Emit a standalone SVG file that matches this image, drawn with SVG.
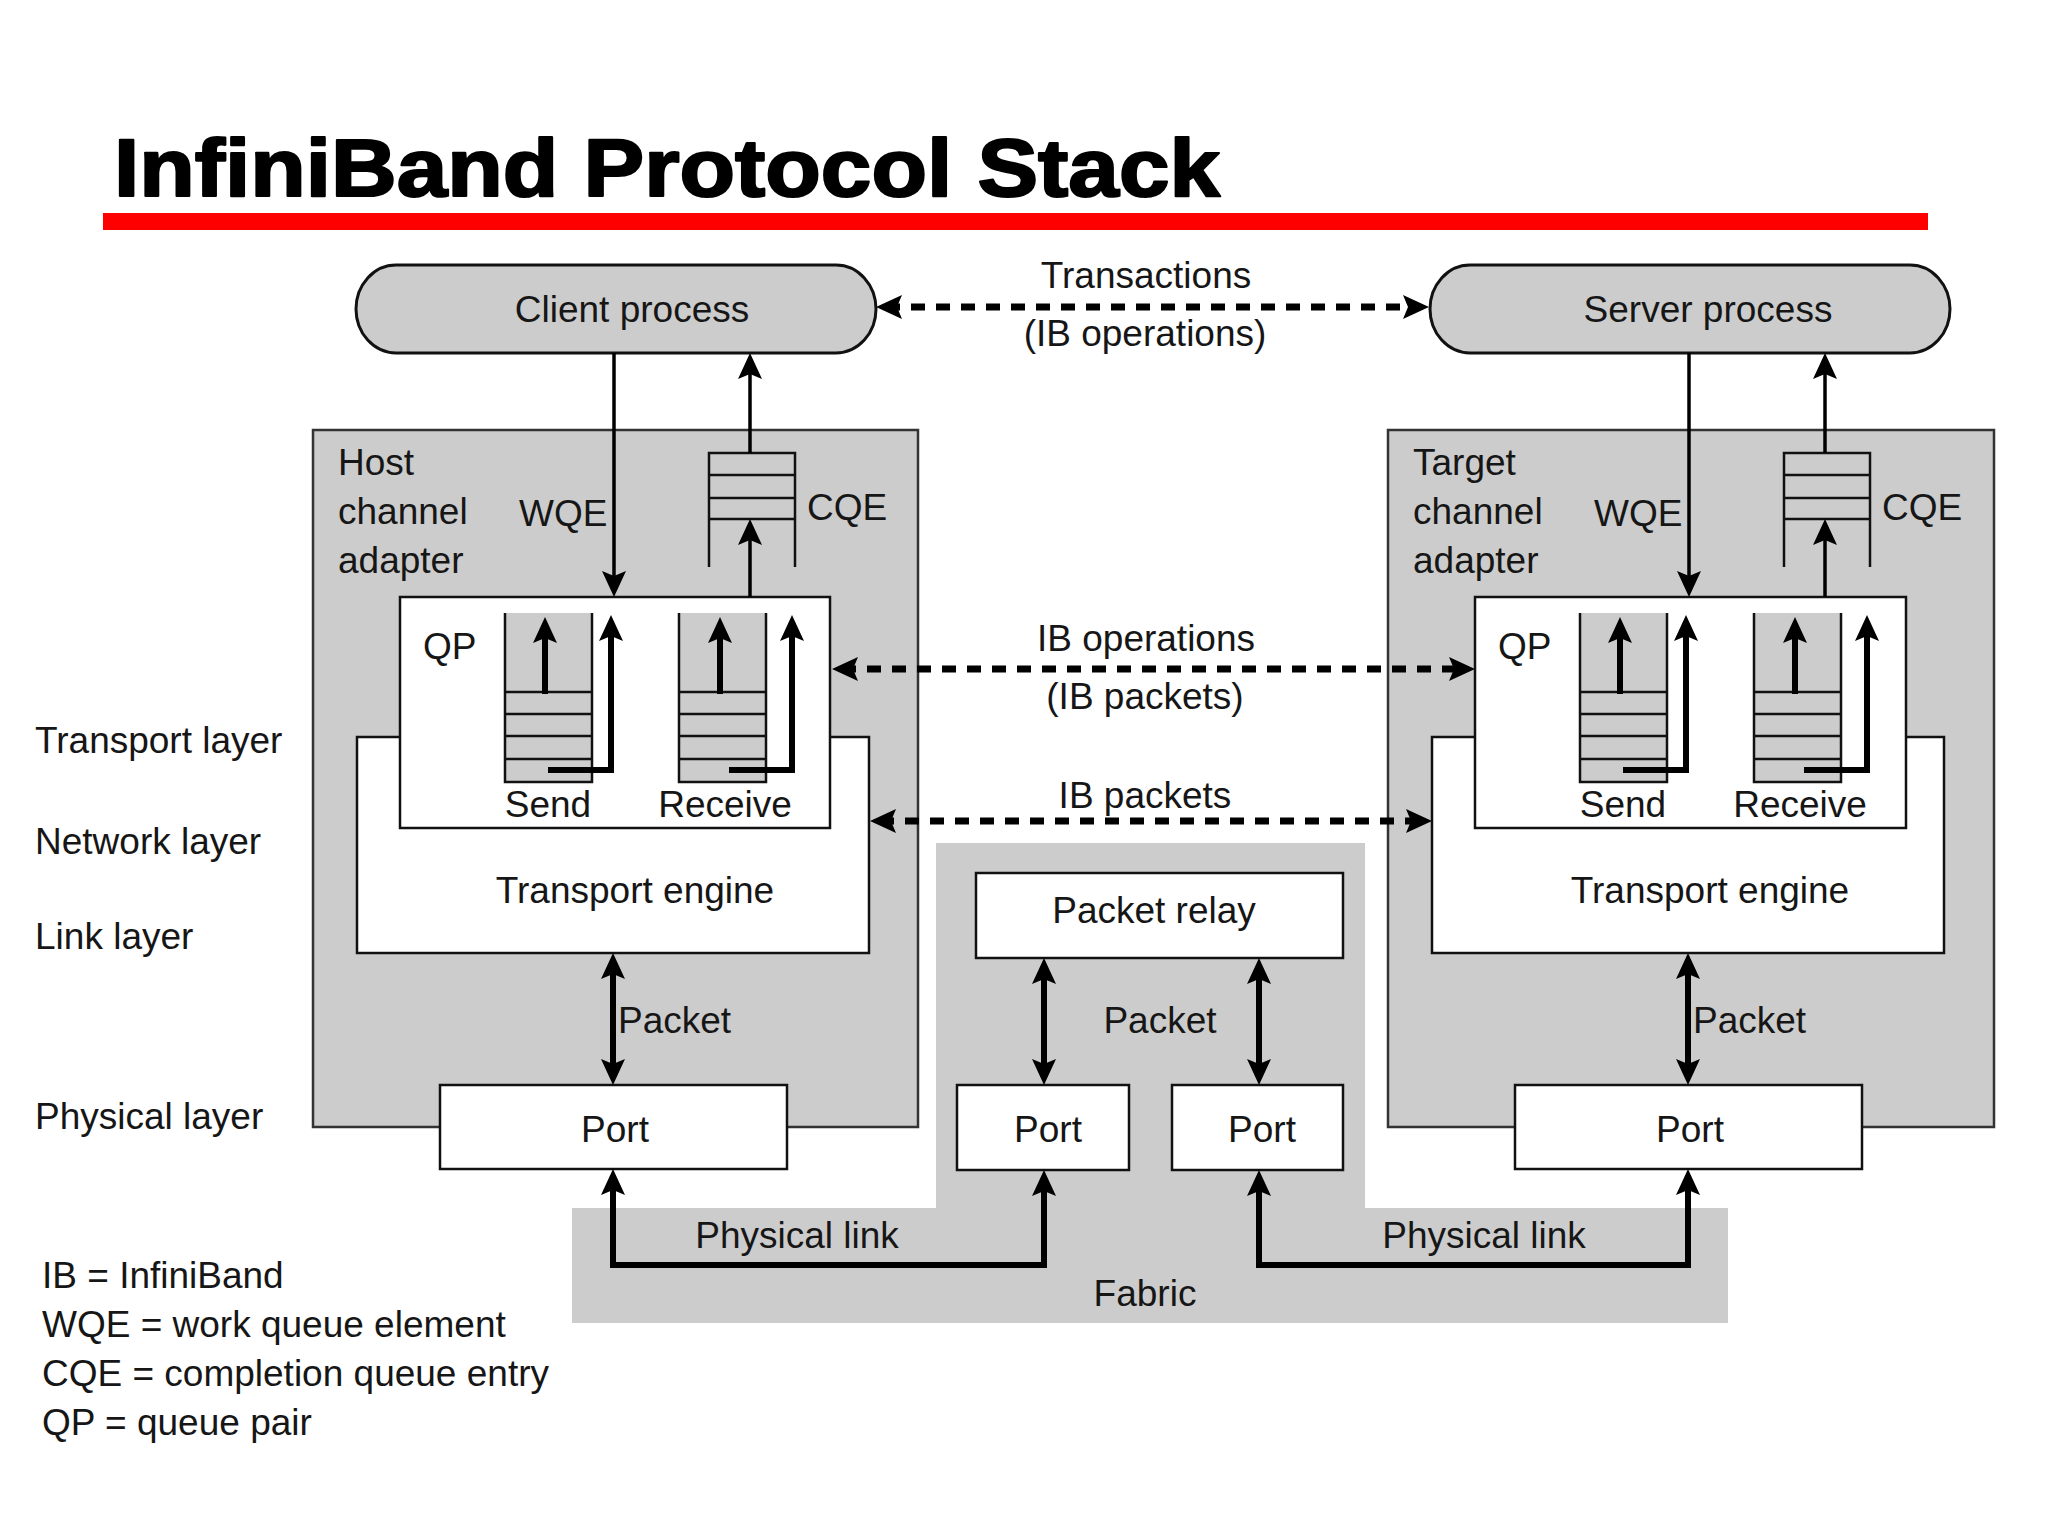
<svg xmlns="http://www.w3.org/2000/svg" width="2048" height="1536" viewBox="0 0 2048 1536">
<style>
text{font-family:"Liberation Sans",Arial,sans-serif;font-size:37px;fill:#161616}
.mid{text-anchor:middle}
.title{font-weight:bold;font-size:82px;fill:#000;stroke:#000;stroke-width:2.2;stroke-linejoin:round}
.gray{fill:#cccccc}
.box{fill:#ffffff;stroke:#111;stroke-width:2.5}
.hca{fill:#cccccc;stroke:#333;stroke-width:2.5}
.pill{fill:#cccccc;stroke:#111;stroke-width:3}
.q{fill:none;stroke:#111;stroke-width:2.5}
.thin{fill:none;stroke:#000;stroke-width:3.5}
.thick{fill:none;stroke:#000;stroke-width:6}
.dash{fill:none;stroke:#000;stroke-width:7;stroke-dasharray:14 11}
.a{marker-end:url(#ah)}
.aa{marker-start:url(#ah);marker-end:url(#ah)}
</style>
<defs>
<marker id="ah" viewBox="0 0 26 24" refX="16" refY="12" markerWidth="26" markerHeight="24" markerUnits="userSpaceOnUse" orient="auto-start-reverse">
<path d="M0,0 L26,12 L0,24 L5,12 z" fill="#000"/>
</marker>
</defs>
<rect width="2048" height="1536" fill="#ffffff"/>

<g id="title">
<text class="title" x="114" y="196" textLength="1106" lengthAdjust="spacingAndGlyphs">InfiniBand Protocol Stack</text>
<rect x="103" y="213" width="1825" height="17" fill="#ff0000"/>
</g>

<g id="fabric">
<polygon class="gray" points="936,843 1365,843 1365,1208 1728,1208 1728,1323 572,1323 572,1208 936,1208"/>
<text class="mid" x="1145" y="1306">Fabric</text>
</g>

<g id="client-process">
<rect class="pill" x="356" y="265" width="520" height="88" rx="40" ry="44"/>
<text class="mid" x="632" y="322">Client process</text>
</g>
<g id="server-process">
<rect class="pill" x="1430" y="265" width="520" height="88" rx="40" ry="44"/>
<text class="mid" x="1708" y="322">Server process</text>
</g>

<g id="host-channel-adapter">
<rect class="hca" x="313" y="430" width="605" height="697"/>
<text x="338" y="475">Host</text>
<text x="338" y="524">channel</text>
<text x="338" y="573">adapter</text>
<text x="519" y="526">WQE</text>
<text x="807" y="520">CQE</text>
<path class="q" d="M709,567 V453 H795 V567 M709,475 H795 M709,498 H795 M709,519 H795"/>
</g>
<g id="target-channel-adapter">
<rect class="hca" x="1388" y="430" width="606" height="697"/>
<text x="1413" y="475">Target</text>
<text x="1413" y="524">channel</text>
<text x="1413" y="573">adapter</text>
<text x="1594" y="526">WQE</text>
<text x="1882" y="520">CQE</text>
<path class="q" d="M1784,567 V453 H1870 V567 M1784,475 H1870 M1784,498 H1870 M1784,519 H1870"/>
</g>

<g id="host-transport-engine">
<rect class="box" x="357" y="737" width="512" height="216"/>
<text class="mid" x="635" y="903">Transport engine</text>
</g>
<g id="target-transport-engine">
<rect class="box" x="1432" y="737" width="512" height="216"/>
<text class="mid" x="1710" y="903">Transport engine</text>
</g>

<g id="host-qp">
<rect class="box" x="400" y="597" width="430" height="231"/>
<text x="423" y="659">QP</text>
<rect class="gray" x="505" y="613" width="87" height="169"/>
<path class="q" d="M505,613 V782 H592 V613 M505,692 H592 M505,714 H592 M505,736 H592 M505,759 H592"/>
<rect class="gray" x="679" y="613" width="87" height="169"/>
<path class="q" d="M679,613 V782 H766 V613 M679,692 H766 M679,714 H766 M679,736 H766 M679,759 H766"/>
<text class="mid" x="548" y="817">Send</text>
<text class="mid" x="725" y="817">Receive</text>
</g>
<g id="target-qp">
<rect class="box" x="1475" y="597" width="431" height="231"/>
<text x="1498" y="659">QP</text>
<rect class="gray" x="1580" y="613" width="87" height="169"/>
<path class="q" d="M1580,613 V782 H1667 V613 M1580,692 H1667 M1580,714 H1667 M1580,736 H1667 M1580,759 H1667"/>
<rect class="gray" x="1754" y="613" width="87" height="169"/>
<path class="q" d="M1754,613 V782 H1841 V613 M1754,692 H1841 M1754,714 H1841 M1754,736 H1841 M1754,759 H1841"/>
<text class="mid" x="1623" y="817">Send</text>
<text class="mid" x="1800" y="817">Receive</text>
</g>

<g id="host-port">
<rect class="box" x="440" y="1085" width="347" height="84"/>
<text class="mid" x="615" y="1142">Port</text>
</g>
<g id="target-port">
<rect class="box" x="1515" y="1085" width="347" height="84"/>
<text class="mid" x="1690" y="1142">Port</text>
</g>
<g id="packet-relay">
<rect class="box" x="976" y="873" width="367" height="85"/>
<text class="mid" x="1154" y="923">Packet relay</text>
</g>
<g id="relay-port-left">
<rect class="box" x="957" y="1085" width="172" height="85"/>
<text class="mid" x="1048" y="1142">Port</text>
</g>
<g id="relay-port-right">
<rect class="box" x="1172" y="1085" width="171" height="85"/>
<text class="mid" x="1262" y="1142">Port</text>
</g>

<g id="connectors">
<line class="dash aa" x1="886" y1="307" x2="1419" y2="307"/>
<line class="dash aa" x1="842" y1="669" x2="1465" y2="669"/>
<line class="dash aa" x1="880" y1="821" x2="1422" y2="821"/>
<line class="thin a" x1="614" y1="353" x2="614" y2="587"/>
<line class="thin a" x1="750" y1="453" x2="750" y2="363"/>
<line class="thin a" x1="750" y1="597" x2="750" y2="529"/>
<line class="thin a" x1="1689" y1="353" x2="1689" y2="587"/>
<line class="thin a" x1="1825" y1="453" x2="1825" y2="363"/>
<line class="thin a" x1="1825" y1="597" x2="1825" y2="529"/>
<line class="thick a" x1="545" y1="694" x2="545" y2="627"/>
<path class="thick a" d="M548,770 H611 V625"/>
<line class="thick a" x1="720" y1="694" x2="720" y2="627"/>
<path class="thick a" d="M729,770 H792 V625"/>
<line class="thick a" x1="1620" y1="694" x2="1620" y2="627"/>
<path class="thick a" d="M1623,770 H1686 V625"/>
<line class="thick a" x1="1795" y1="694" x2="1795" y2="627"/>
<path class="thick a" d="M1804,770 H1867 V625"/>
<line class="thick aa" x1="613" y1="963" x2="613" y2="1075"/>
<line class="thick aa" x1="1688" y1="963" x2="1688" y2="1075"/>
<line class="thick aa" x1="1044" y1="968" x2="1044" y2="1075"/>
<line class="thick aa" x1="1259" y1="968" x2="1259" y2="1075"/>
<path class="thick aa" d="M613,1179 V1265 H1044 V1180"/>
<path class="thick aa" d="M1259,1180 V1265 H1688 V1179"/>
</g>

<g id="connector-labels">
<text class="mid" x="1146" y="288">Transactions</text>
<text class="mid" x="1145" y="346">(IB operations)</text>
<text class="mid" x="1146" y="651">IB operations</text>
<text class="mid" x="1145" y="709">(IB packets)</text>
<text class="mid" x="1145" y="808">IB packets</text>
<text x="618" y="1033">Packet</text>
<text x="1693" y="1033">Packet</text>
<text class="mid" x="1160" y="1033">Packet</text>
<text class="mid" x="797" y="1248">Physical link</text>
<text class="mid" x="1484" y="1248">Physical link</text>
</g>

<g id="layer-labels">
<text x="35" y="753">Transport layer</text>
<text x="35" y="854">Network layer</text>
<text x="35" y="949">Link layer</text>
<text x="35" y="1129">Physical layer</text>
</g>

<g id="legend">
<text x="42" y="1288">IB = InfiniBand</text>
<text x="42" y="1337">WQE = work queue element</text>
<text x="42" y="1386">CQE = completion queue entry</text>
<text x="42" y="1435">QP = queue pair</text>
</g>
</svg>
